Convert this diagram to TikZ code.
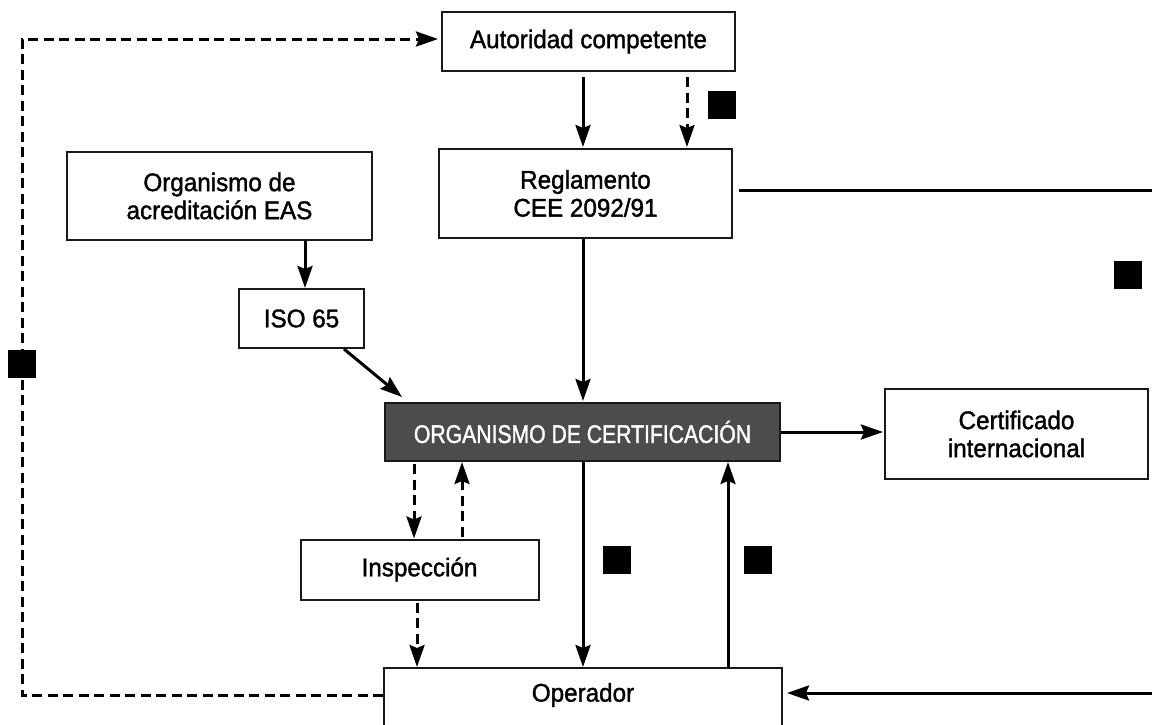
\documentclass[tikz,border=0pt]{standalone}
\usepackage{fontspec}
\setmainfont{Liberation Sans}
\newfontfamily\lblfont[FakeBold=1.4,FakeStretch=0.95]{Liberation Sans}
\newfontfamily\capfont[FakeBold=1.4,FakeStretch=0.83]{Liberation Sans}
\usetikzlibrary{arrows.meta}
\begin{document}
\begin{tikzpicture}[x=1pt,y=-1pt,
  box/.style={draw=black!90, line width=2pt, fill=white, inner sep=0pt,
    align=center, font=\lblfont\fontsize{25.5}{28}\selectfont},
  darkbox/.style={box, fill=black!70, text=white},
  conn/.style={line width=3pt, -{Stealth[length=22pt,width=15pt,inset=3pt]}},
  plain/.style={line width=3pt},
  dashconn/.style={conn, dash pattern=on 10pt off 5.5pt},
  blackmark/.style={fill=black, minimum size=28pt, inner sep=0pt}]
\clip (0,0) rectangle (1152,724);
\fill[white] (0,0) rectangle (1152,724);

% boxes
\node[box, minimum width=293pt, minimum height=59pt] (auth) at (588.5,41.5) {Autoridad competente};
\node[box, minimum width=293pt, minimum height=89pt] (regl) at (585.5,193.5) {Reglamento\\CEE 2092/91};
\node[box, minimum width=305pt, minimum height=88pt] (eas) at (219.5,196) {Organismo de\\acreditación EAS};
\node[box, minimum width=125pt, minimum height=59pt] (iso) at (301.5,318.5) {ISO 65};
\node[darkbox, minimum width=395pt, minimum height=58pt, font=\capfont\fontsize{25.5}{28}\selectfont] (org) at (582.5,432) {ORGANISMO DE CERTIFICACIÓN};
\node[box, minimum width=263pt, minimum height=90pt] (cert) at (1016.5,434) {Certificado\\internacional};
\node[box, minimum width=238pt, minimum height=60pt] (insp) at (419.5,569.5) {Inspección};
\node[box, minimum width=398pt, minimum height=90pt, anchor=north] (oper) at (583,667) {};
\node[font=\lblfont\fontsize{25.5}{28}\selectfont, inner sep=0pt] (operlbl) at (583,695) {Operador};

% reference columns and free ends
\coordinate (xa) at (583,0);
\coordinate (xb) at (687,0);
\coordinate (xc) at (305,0);
\coordinate (xd) at (414,0);
\coordinate (xe) at (462,0);
\coordinate (xf) at (417,0);
\coordinate (xg) at (728,0);
\coordinate (ya) at (0,39);
\coordinate (yb) at (0,695);
\coordinate (yc) at (0,190);
\coordinate (yd) at (0,693);
\coordinate (cl1) at (22,695);
\coordinate (cl2) at (22,39);
\coordinate (rend) at (1152,190);
\coordinate (bend) at (1152,693);

% connectors
\draw[conn, shorten <=5pt, shorten >=1pt] (auth.south -| xa) -- (regl.north -| xa);
\draw[dashconn, shorten <=5pt, shorten >=1pt] (auth.south -| xb) -- (regl.north -| xb);
\draw[conn] (eas.south -| xc) -- (iso.north -| xc);
\draw[conn] ([xshift=-21pt]iso.south east) -- ([xshift=18pt,yshift=5pt]org.north west);
\draw[conn, shorten >=1pt] (regl.south -| xa) -- (org.north -| xa);
\draw[conn, shorten >=1pt] (org.east) -- (cert.west |- org.east);
\draw[dashconn, shorten <=2pt] (org.south -| xd) -- (insp.north -| xd);
\draw[dashconn, shorten <=2pt] (insp.north -| xe) -- (org.south -| xe);
\draw[dashconn, shorten <=2pt] (insp.south -| xf) -- (oper.north -| xf);
\draw[conn] (org.south -| xa) -- (oper.north -| xa);
\draw[conn] (oper.north -| xg) -- (org.south -| xg);
\draw[plain, shorten <=6pt] (regl.east |- yc) -- (rend);
\draw[conn, shorten >=4pt] (bend) -- (oper.east |- yd);
\draw[dashconn, shorten >=3pt] (oper.west |- yb) -- (cl1) -- (cl2) -- (auth.west |- ya);

% black marks
\node[blackmark] (m1) at (722,105) {};
\node[blackmark] (m2) at (1127.5,275) {};
\node[blackmark] (m3) at (22,363.5) {};
\node[blackmark] (m4) at (616.5,559.5) {};
\node[blackmark] (m5) at (757.5,559.5) {};
\end{tikzpicture}
\end{document}
